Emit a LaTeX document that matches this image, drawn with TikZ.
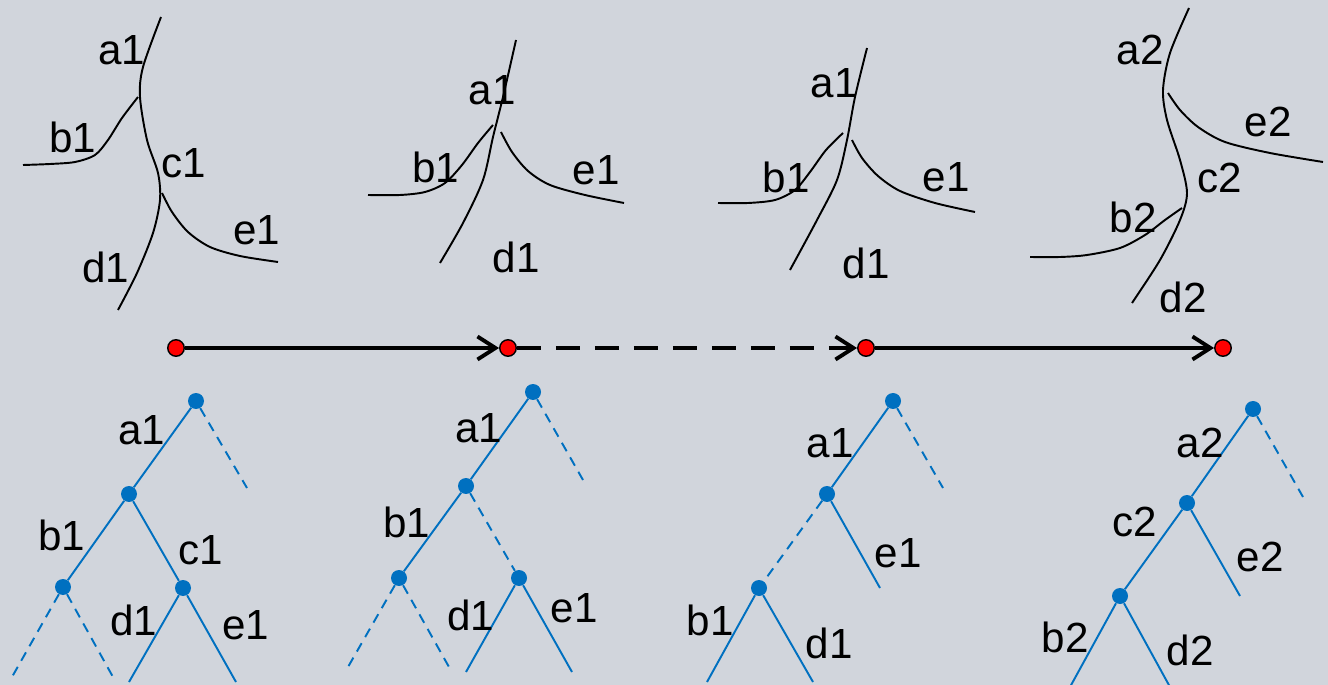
\documentclass[tikz,border=0pt]{standalone}
\usepackage{fontspec}
\setmainfont{Liberation Sans}
\usepackage{tikz}
\usetikzlibrary{arrows.meta}

\definecolor{bgcol}{RGB}{209,213,220}
\definecolor{treeblue}{RGB}{0,112,192}

\tikzset{
    lbl/.style={font=\fontsize{24}{28}\selectfont, inner sep=0pt},
    curve/.style={line width=1.1pt, black},
    stamp/.style={circle, draw=black, line width=0.8pt, fill=red, inner sep=0pt, minimum size=0.33cm},
    timeline/.style={line width=2.2pt, -{Straight Barb[length=3.6mm,width=4.6mm,line width=2.2pt]}},
    dot/.style={circle, fill=treeblue, inner sep=0pt, minimum size=0.32cm},
    edge/.style={treeblue, line width=1.1pt},
    gap/.style={treeblue, line width=1.1pt, dash pattern=on 5.5pt off 4pt}
}

\begin{document}
\begin{tikzpicture}[x=0.02cm, y=-0.02cm]
    \fill[bgcol] (0,0) rectangle (1328,685);
    \useasboundingbox (0,0) rectangle (1328,685);

    % sketches, first state
    \draw[curve] plot[smooth] coordinates {(161,17) (143,67) (140,97) (147,140) (158,173) (160,200) (153,233) (137,273) (118,310)};
    \draw[curve] plot[smooth] coordinates {(138,97) (122,118) (108,140) (95,155) (75,162) (50,164) (23,165)};
    \draw[curve] plot[smooth] coordinates {(162,193) (172,212) (188,232) (210,247) (240,256) (278,262)};
    \node[lbl] (sa1) at (122,50) {a1};
    \node[lbl] (sb1) at (73,137) {b1};
    \node[lbl] (sc1) at (184,163) {c1};
    \node[lbl] (se1) at (257,230) {e1};
    \node[lbl] (sd1) at (106,267) {d1};

    % sketches, second state
    \draw[curve] plot[smooth] coordinates {(516,40) (503,97) (493,137) (483,180) (463,223) (440,263)};
    \draw[curve] plot[smooth] coordinates {(493,125) (478,143) (462,165) (445,183) (425,192) (400,195) (368,195)};
    \draw[curve] plot[smooth] coordinates {(501,132) (512,152) (528,171) (550,185) (585,195) (624,203)};
    \node[lbl] (ta1) at (492,90) {a1};
    \node[lbl] (tb1) at (436,167) {b1};
    \node[lbl] (te1) at (596,170) {e1};
    \node[lbl] (td1) at (516,257) {d1};

    % sketches, third state
    \draw[curve] plot[smooth] coordinates {(867,48) (855,97) (847,140) (837,180) (817,220) (790,270)};
    \draw[curve] plot[smooth] coordinates {(843,133) (826,150) (810,172) (795,190) (775,200) (748,203) (718,203)};
    \draw[curve] plot[smooth] coordinates {(852,140) (862,158) (878,176) (900,191) (935,203) (975,212)};
    \node[lbl] (ua1) at (834,83) {a1};
    \node[lbl] (ub1) at (786,177) {b1};
    \node[lbl] (ue1) at (946,177) {e1};
    \node[lbl] (ud1) at (866,263) {d1};

    % sketches, fourth state
    \draw[curve] plot[smooth] coordinates {(1189,8) (1170,53) (1163,90) (1167,120) (1180,160) (1187,193) (1180,220) (1160,260) (1132,303)};
    \draw[curve] plot[smooth] coordinates {(1168,93) (1180,110) (1198,127) (1225,142) (1270,153) (1323,162)};
    \draw[curve] plot[smooth] coordinates {(1182,208) (1165,220) (1145,235) (1120,248) (1087,255) (1060,257) (1030,257)};
    \node[lbl] (va2) at (1140,50) {a2};
    \node[lbl] (ve2) at (1268,122) {e2};
    \node[lbl] (vc2) at (1220,178) {c2};
    \node[lbl] (vb2) at (1133,217) {b2};
    \node[lbl] (vd2) at (1183,297) {d2};

    % timeline
    \node[stamp] (t1) at (176,348) {};
    \node[stamp] (t2) at (508,348) {};
    \node[stamp] (t3) at (866,348) {};
    \node[stamp] (t4) at (1223,348) {};
    \draw[timeline] (t1) -- (t2);
    \draw[timeline, dash pattern=on 0.48cm off 0.3cm] (t2) -- (t3);
    \draw[timeline] (t3) -- (t4);

    % tree, first state
    \node[dot] (p0) at (196,401) {};
    \node[dot] (p1) at (129,494) {};
    \node[dot] (p2) at (63,587) {};
    \node[dot] (p3) at (183,588) {};
    \coordinate (pr) at (247,488);
    \coordinate (p2l) at (12,677);
    \coordinate (p2r) at (113,677);
    \coordinate (p3l) at (129,682);
    \coordinate (p3r) at (236,682);
    \draw[edge] (p0) -- (p1);
    \draw[edge] (p1) -- (p2);
    \draw[edge] (p1) -- (p3);
    \draw[edge] (p3) -- (p3l);
    \draw[edge] (p3) -- (p3r);
    \draw[gap] (p0) -- (pr);
    \draw[gap] (p2) -- (p2l);
    \draw[gap] (p2) -- (p2r);
    \node[lbl] (pa1) at (142,430) {a1};
    \node[lbl] (pb1) at (62,535) {b1};
    \node[lbl] (pc1) at (201,550) {c1};
    \node[lbl] (pd1) at (134,620) {d1};
    \node[lbl] (pe1) at (246,625) {e1};

    % tree, second state
    \node[dot] (q0) at (533,392) {};
    \node[dot] (q1) at (466,486) {};
    \node[dot] (q2) at (399,578) {};
    \node[dot] (q3) at (519,578) {};
    \coordinate (qr) at (583,480);
    \coordinate (q2l) at (348,667);
    \coordinate (q2r) at (449,667);
    \coordinate (q3l) at (466,672);
    \coordinate (q3r) at (572,672);
    \draw[edge] (q0) -- (q1);
    \draw[edge] (q1) -- (q2);
    \draw[edge] (q3) -- (q3l);
    \draw[edge] (q3) -- (q3r);
    \draw[gap] (q0) -- (qr);
    \draw[gap] (q1) -- (q3);
    \draw[gap] (q2) -- (q2l);
    \draw[gap] (q2) -- (q2r);
    \node[lbl] (qa1) at (479,428) {a1};
    \node[lbl] (qb1) at (407,522) {b1};
    \node[lbl] (qd1) at (471,615) {d1};
    \node[lbl] (qe1) at (574,608) {e1};

    % tree, third state
    \node[dot] (r0) at (893,401) {};
    \node[dot] (r1) at (827,494) {};
    \node[dot] (r2) at (759,588) {};
    \coordinate (rr) at (943,488);
    \coordinate (r1r) at (880,588);
    \coordinate (r2l) at (707,682);
    \coordinate (r2r) at (813,682);
    \draw[edge] (r0) -- (r1);
    \draw[edge] (r1) -- (r1r);
    \draw[edge] (r2) -- (r2l);
    \draw[edge] (r2) -- (r2r);
    \draw[gap] (r0) -- (rr);
    \draw[gap] (r1) -- (r2);
    \node[lbl] (ra1) at (830,443) {a1};
    \node[lbl] (re1) at (898,553) {e1};
    \node[lbl] (rb1) at (710,620) {b1};
    \node[lbl] (rd1) at (829,643) {d1};

    % tree, fourth state
    \node[dot] (s0) at (1253,409) {};
    \node[dot] (s1) at (1187,503) {};
    \node[dot] (s2) at (1120,596) {};
    \coordinate (sr) at (1303,497);
    \coordinate (s1r) at (1240,596);
    \coordinate (s2l) at (1070,687);
    \coordinate (s2r) at (1170,687);
    \draw[edge] (s0) -- (s1);
    \draw[edge] (s1) -- (s2);
    \draw[edge] (s1) -- (s1r);
    \draw[edge] (s2) -- (s2l);
    \draw[edge] (s2) -- (s2r);
    \draw[gap] (s0) -- (sr);
    \node[lbl] (sa2) at (1200,443) {a2};
    \node[lbl] (sc2) at (1135,522) {c2};
    \node[lbl] (se2) at (1260,557) {e2};
    \node[lbl] (sb2) at (1065,637) {b2};
    \node[lbl] (sd2) at (1190,650) {d2};
\end{tikzpicture}
\end{document}
